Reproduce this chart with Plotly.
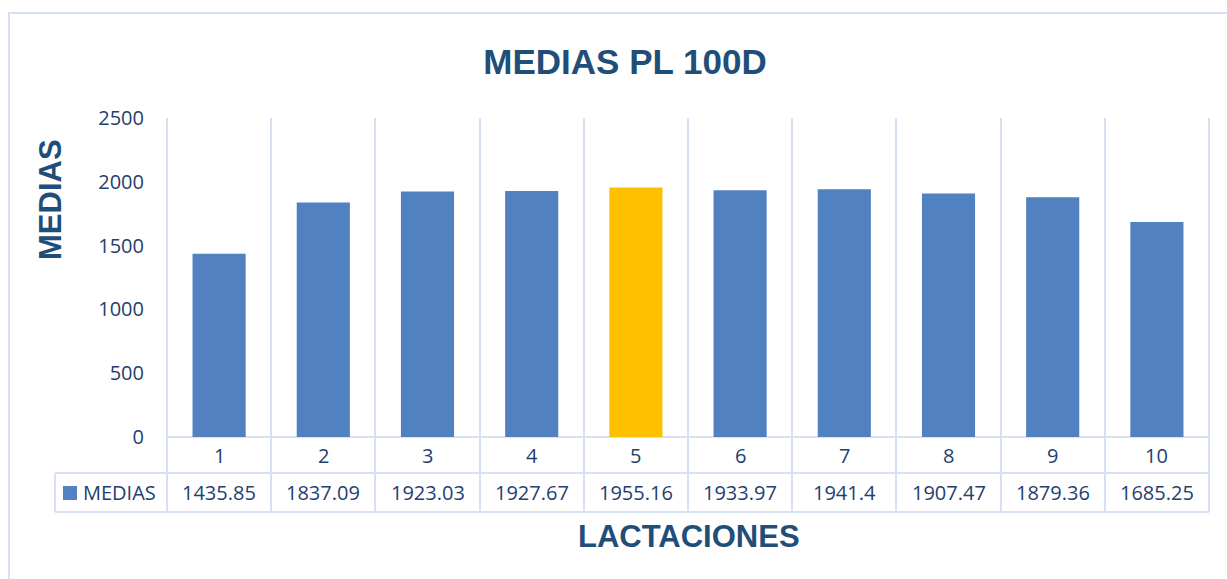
"""Excel-style bar chart with data table: MEDIAS PL 100D."""
import plotly.graph_objects as go

# data
lactaciones = ["1", "2", "3", "4", "5", "6", "7", "8", "9", "10"]
medias = [1435.85, 1837.09, 1923.03, 1927.67, 1955.16, 1933.97, 1941.4, 1907.47, 1879.36, 1685.25]
medias_text = ["1435.85", "1837.09", "1923.03", "1927.67", "1955.16",
               "1933.97", "1941.4", "1907.47", "1879.36", "1685.25"]
highlight = "5"
y_ticks = [0, 500, 1000, 1500, 2000, 2500]

# colours / fonts
BLUE = "#5281c1"
GOLD = "#FFC000"
NAVY = "#1F4E79"
TICK = "#24406e"
GRID = "#d6e1f1"
BODY_FONT = "Open Sans"
TITLE_FONT = "Liberation Sans"

W, H = 1227, 579
# plot area in pixels (includes the data table rows)
L, R, T, B = 167, 1209, 118, 512
ZERO_PX, ROW2_PX = 437, 473


def px_x(p):
    return (p - L) / (R - L)


def px_y(p):
    return (B - p) / (B - T)


# y range so that 2500 sits at T and 0 sits at ZERO_PX
per_px = 2500 / (ZERO_PX - T)
y_min = -(B - ZERO_PX) * per_px

colors = [GOLD if c == highlight else BLUE for c in lactaciones]

fig = go.Figure()
fig.add_trace(go.Bar(
    x=lactaciones, y=medias, marker_color=colors, marker_line_width=0,
    name="MEDIAS", showlegend=False,
))

body = dict(family=BODY_FONT, size=20, color=TICK)
annotations = []
# category row and value row of the data table (x = category index)
for i, (cat, txt) in enumerate(zip(lactaciones, medias_text)):
    annotations.append(dict(x=i, xref="x", y=px_y((ZERO_PX + ROW2_PX) / 2), yref="paper",
                            yanchor="middle", text=cat, showarrow=False, font=body))
    annotations.append(dict(x=i, xref="x", y=px_y((ROW2_PX + B) / 2), yref="paper",
                            yanchor="middle", text=txt, showarrow=False, font=body))
# legend key label
annotations.append(dict(x=px_x(81), xref="paper", y=px_y((ROW2_PX + B) / 2), yref="paper",
                        xanchor="left", yanchor="middle", text="MEDIAS", showarrow=False,
                        font=body))
# axis titles
annotations.append(dict(x=px_x(50), xref="paper", y=px_y(200), yref="paper",
                        xanchor="center", yanchor="middle",
                        text="<b>MEDIAS</b>", textangle=-90, showarrow=False,
                        font=dict(family=TITLE_FONT, size=31, color=NAVY)))
annotations.append(dict(x=px_x(689), xref="paper", y=px_y(536), yref="paper",
                        xanchor="center", yanchor="middle",
                        text="<b>LACTACIONES</b>", showarrow=False,
                        font=dict(family=TITLE_FONT, size=31, color=NAVY)))

line = dict(color=GRID, width=2)
shapes = [
    # table horizontal lines
    dict(type="line", xref="paper", yref="paper", x0=px_x(55), x1=1, y0=px_y(ROW2_PX), y1=px_y(ROW2_PX), line=line),
    dict(type="line", xref="paper", yref="paper", x0=px_x(55), x1=1, y0=0, y1=0, line=line),
    dict(type="line", xref="paper", yref="paper", x0=px_x(55), x1=px_x(55), y0=0, y1=px_y(ROW2_PX), line=line),
    # outer plot edges
    dict(type="line", xref="paper", yref="paper", x0=0, x1=0, y0=0, y1=1, line=line),
    dict(type="line", xref="paper", yref="paper", x0=1, x1=1, y0=0, y1=1, line=line),
    # legend key
    dict(type="rect", xref="paper", yref="paper", x0=px_x(63), x1=px_x(77),
         y0=px_y(500), y1=px_y(486), fillcolor=BLUE, line=dict(width=0)),
    # chart border
    dict(type="rect", xref="paper", yref="paper", x0=px_x(9), x1=px_x(W + 20),
         y0=px_y(H + 20), y1=px_y(13), line=dict(color=GRID, width=2), layer="below"),
]

fig.update_layout(
    width=W, height=H,
    margin=dict(l=L, r=W - R, t=T, b=H - B),
    paper_bgcolor="white", plot_bgcolor="white",
    title=dict(text="<b>MEDIAS PL 100D</b>", xref="container", x=625 / W, y=1 - 62 / H,
               xanchor="center", yanchor="middle",
               font=dict(family=TITLE_FONT, size=35, color=NAVY)),
    bargap=0.49,
    showlegend=False,
    annotations=annotations,
    shapes=shapes,
)
fig.update_xaxes(type="category", range=[-0.5, len(lactaciones) - 0.5],
                 showticklabels=False, ticks="",
                 showgrid=True, gridcolor=GRID, gridwidth=2, tickson="boundaries",
                 showline=False, zeroline=False)
fig.update_yaxes(range=[y_min, 2500], tickvals=y_ticks, showgrid=False,
                 zeroline=True, zerolinecolor=GRID, zerolinewidth=2,
                 ticklabelstandoff=22, showline=False,
                 tickfont=body)

# drop the browser's default body margin so the figure sits at the page origin
fig.write_html("out.html", config={"displayModeBar": False},
               post_script="document.body.style.margin='0';")
